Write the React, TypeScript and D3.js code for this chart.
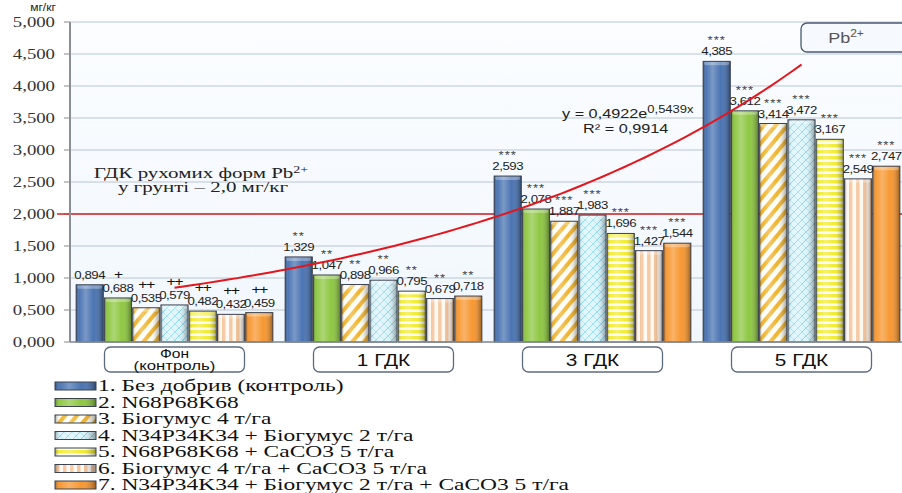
import React from "react";
import * as d3 from "d3";

const groups = ["Фон (контроль)", "1 ГДК", "3 ГДК", "5 ГДК"];
const series = [
  "1. Без добрив (контроль)",
  "2. N68P68K68",
  "3. Біогумус 4 т/га",
  "4. N34P34K34 + Біогумус 2 т/га",
  "5. N68P68K68  + CaCO3 5 т/га",
  "6. Біогумус 4 т/га + CaCO3 5 т/га",
  "7. N34P34K34 + Біогумус 2 т/га + CaCO3 5 т/га",
];
const valFon = [0.894, 0.688, 0.535, 0.579, 0.482, 0.432, 0.459];
const val1 = [1.329, 1.047, 0.898, 0.966, 0.795, 0.679, 0.718];
const val3 = [2.593, 2.078, 1.887, 1.983, 1.696, 1.427, 1.544];
const val5 = [4.385, 3.612, 3.414, 3.472, 3.167, 2.549, 2.747];
const values = [valFon, val1, val3, val5];
const marksFon = ["", "+", "++", "++", "++", "++", "++"];
const marks1 = ["**", "**", "**", "**", "**", "**", "**"];
const marks3 = ["***", "***", "***", "***", "***", "***", "***"];
const marks5 = ["***", "***", "***", "***", "***", "***", "***"];
const marks = [marksFon, marks1, marks3, marks5];
const yTicks = [0, 0.5, 1, 1.5, 2, 2.5, 3, 3.5, 4, 4.5, 5];
const limitValue = 2.0;
const trendA = 0.4922;
const trendB = 0.5439;

const fills = ["#4671b0", "#8cc63f", "url(#p3)", "url(#p4)", "url(#p5)", "url(#p6)", "#f7952d"];
const SX = 1.24;

const fmt = (v: number) => v.toFixed(3).replace(".", ",");
const fmtTick = (v: number) => v.toFixed(3).replace(".", ",");

function ST({ x, y, anchor = "middle", sx = SX, children, ...rest }: any) {
  return (
    <g transform={`translate(${x},${y}) scale(${sx},1)`}>
      <text textAnchor={anchor} {...rest}>{children}</text>
    </g>
  );
}

export default function App() {
  const W = 902, H = 493;
  const left = 70, right = 902, top = 22, bottom = 342;
  const x0 = d3.scaleBand<string>().domain(groups).range([70, 906]).paddingInner(0.048).paddingOuter(0.024);
  const x1 = d3.scaleBand<string>().domain(series).range([0, x0.bandwidth()]).padding(0.04);
  const y = d3.scaleLinear().domain([0, 5]).range([bottom, top]);

  const gc = (i: number) => (x0(groups[i]) as number) + x0.bandwidth() / 2;
  const trendX = d3.scaleLinear().domain([1, 4]).range([gc(0), gc(3)]);
  const trendPts = d3.range(0, 61).map((k) => 1 + (k * 3) / 60);
  const line = d3.line<number>().x((t) => trendX(t)).y((t) => y(trendA * Math.exp(trendB * t))).curve(d3.curveMonotoneX);

  return (
    <svg width={W} height={H} style={{ position: "absolute", left: 0, top: 0, background: "#fff" }}>
      <defs>
        <pattern id="p3" width="9" height="9" patternUnits="userSpaceOnUse" patternTransform="rotate(40)">
          <rect width="9" height="9" fill="#fffdf4" />
          <rect width="4" height="9" fill="#f0b22a" />
        </pattern>
        <pattern id="p4" width="8" height="8" patternUnits="userSpaceOnUse">
          <rect width="8" height="8" fill="#dcf4fa" />
          <path d="M0,8 L8,0 M-2,2 L2,-2 M6,10 L10,6" stroke="#7fd2e6" strokeWidth="1" />
          <path d="M0,0 L8,8 M-2,6 L2,10 M6,-2 L10,2" stroke="#a6e0ee" strokeWidth="0.8" />
        </pattern>
        <pattern id="p5" width="6" height="6" patternUnits="userSpaceOnUse">
          <rect width="6" height="6" fill="#fffff0" />
          <rect width="6" height="3.5" fill="#f2ec2e" />
        </pattern>
        <pattern id="p6" width="7" height="7" patternUnits="userSpaceOnUse">
          <rect width="7" height="7" fill="#fff8f0" />
          <rect width="3.5" height="7" fill="#f3c195" />
        </pattern>
        <linearGradient id="shade" x1="0" x2="1" y1="0" y2="0">
          <stop offset="0" stopColor="#000" stopOpacity="0.35" />
          <stop offset="0.12" stopColor="#fff" stopOpacity="0.05" />
          <stop offset="0.35" stopColor="#fff" stopOpacity="0.28" />
          <stop offset="0.65" stopColor="#fff" stopOpacity="0.02" />
          <stop offset="1" stopColor="#000" stopOpacity="0.38" />
        </linearGradient>
        <linearGradient id="bgGrad" x1="0" x2="0" y1="0" y2="1">
          <stop offset="0" stopColor="#fbfdff" />
          <stop offset="1" stopColor="#f1f7fd" />
        </linearGradient>
      </defs>

      {/* plot area */}
      <rect x={left} y={top} width={right - left} height={bottom - top} fill="url(#bgGrad)" />
      {yTicks.map((t) => (
        <g key={t}>
          <line x1={left} x2={right} y1={y(t)} y2={y(t)} stroke="#b7c6d6" strokeWidth={1.2} />
          <line x1={left - 6} x2={left} y1={y(t)} y2={y(t)} stroke="#888" strokeWidth={1} />
          <ST x={55} y={y(t) + 5} anchor="end" sx={1.25} fontFamily="'Liberation Serif', serif" fontSize={15} fill="#333">
            {fmtTick(t)}
          </ST>
        </g>
      ))}
      <ST x={43} y={11} sx={1.15} fontFamily="'Liberation Sans', Arial, sans-serif" fontSize={10.5} fill="#222">мг/кг</ST>

      {/* limit line */}
      <line x1={57} x2={right} y1={y(limitValue)} y2={y(limitValue)} stroke="#d9201f" strokeWidth={1.5} />

      {/* bars */}
      {groups.map((g, gi) => (
        <g key={g} transform={`translate(${x0(g)},0)`}>
          {series.map((s, si) => {
            const v = values[gi][si];
            const bx = x1(s) as number;
            const bw = x1.bandwidth();
            const by = y(v);
            const bh = bottom - by;
            return (
              <g key={s}>
                <rect x={bx} y={by} width={bw} height={bh} fill={fills[si]} />
                <rect x={bx} y={by} width={bw} height={bh} fill="url(#shade)" />
                <rect x={bx + 1} y={by} width={bw - 2} height={4} rx={2} fill="#fff" fillOpacity={0.3} />
                <rect x={bx} y={by} width={bw} height={bh} fill="none" stroke="#3b4250" strokeWidth={1} />
              </g>
            );
          })}
        </g>
      ))}

      {/* axis line */}
      <line x1={left} x2={left} y1={top} y2={bottom} stroke="#8a8f96" strokeWidth={2} />
      <line x1={left} x2={right} y1={bottom} y2={bottom} stroke="#8a8f96" strokeWidth={1.5} />

      {/* labels */}
      {groups.map((g, gi) => (
        <g key={g + "l"} transform={`translate(${x0(g)},0)`}>
          {series.map((s, si) => {
            const v = values[gi][si];
            const cx = (x1(s) as number) + x1.bandwidth() / 2;
            const by = y(v);
            const m = marks[gi][si];
            const isPlus = m.indexOf("+") >= 0;
            return (
              <g key={s}>
                <ST x={cx} y={by - 6} sx={1.15} fontFamily="'Liberation Sans', Arial, sans-serif" fontSize={11.5} fill="#222" letterSpacing={-0.4}>
                  {fmt(v)}
                </ST>
                {m && (
                  <ST x={cx} y={isPlus ? by - 19 : by - 17} sx={1.2} fontFamily="'Liberation Sans', Arial, sans-serif" fontSize={isPlus ? 13 : 11} fill={isPlus ? "#111" : "#444"} letterSpacing={isPlus ? -1 : 0.8}>
                    {m}
                  </ST>
                )}
              </g>
            );
          })}
        </g>
      ))}

      {/* trend */}
      <path d={line(trendPts) as string} fill="none" stroke="#e3161d" strokeWidth={2} />
      <g>
        <ST x={562} y={118} anchor="start" sx={1.3} fontFamily="'Liberation Sans', Arial, sans-serif" fontSize={12.5} fill="#222">
          y = 0,4922e<tspan dy={-5} fontSize={10}>0,5439x</tspan>
        </ST>
        <ST x={583} y={133} anchor="start" sx={1.3} fontFamily="'Liberation Sans', Arial, sans-serif" fontSize={12.5} fill="#222">
          R² = 0,9914
        </ST>
      </g>

      {/* GDK text */}
      <ST x={201} y={178} sx={1.4} fontFamily="'Liberation Serif', serif" fontSize={15} fill="#222">
        ГДК рухомих форм Pb<tspan dy={-5} fontSize={10}>2+</tspan>
      </ST>
      <ST x={203} y={192} sx={1.4} fontFamily="'Liberation Serif', serif" fontSize={15} fill="#222">
        у грунті – 2,0 мг/кг
      </ST>

      {/* Pb box */}
      <rect x={801} y={23} width={110} height={29} rx={6} fill="#f6f9fd" stroke="#4b5a70" strokeWidth={1.3} />
      <ST x={846} y={43} sx={1.2} fontFamily="'Liberation Sans', Arial, sans-serif" fontSize={15} fill="#555">
        Pb<tspan dy={-6} fontSize={10}>2+</tspan>
      </ST>

      {/* category boxes */}
      {groups.map((g, gi) => {
        const c = gc(gi);
        return (
          <g key={g + "b"}>
            <rect x={c - 70} y={347} width={140} height={25} rx={6} fill="#fff" stroke="#5d6b80" strokeWidth={1.3} />
            {gi === 0 ? (
              <>
                <ST x={c} y={358} sx={1.3} fontFamily="'Liberation Sans', Arial, sans-serif" fontSize={12} fill="#111">Фон</ST>
                <ST x={c} y={370} sx={1.4} fontFamily="'Liberation Sans', Arial, sans-serif" fontSize={12} fill="#111">(контроль)</ST>
              </>
            ) : (
              <ST x={c} y={366} sx={1.3} fontFamily="'Liberation Sans', Arial, sans-serif" fontSize={16} fill="#111">{g}</ST>
            )}
          </g>
        );
      })}

      {/* legend */}
      {series.map((s, si) => {
        const ly = 386 + si * 16.5;
        return (
          <g key={s + "lg"}>
            <rect x={55} y={ly - 4} width={41} height={8} fill={fills[si]} />
            <rect x={55} y={ly - 4} width={41} height={8} fill="url(#shade)" />
            <rect x={55} y={ly - 4} width={41} height={8} fill="none" stroke="#3b4250" strokeWidth={1} />
            <ST x={98} y={ly + 5} anchor="start" sx={1.38} fontFamily="'Liberation Serif', serif" fontSize={17} fill="#111">
              {s}
            </ST>
          </g>
        );
      })}
    </svg>
  );
}
